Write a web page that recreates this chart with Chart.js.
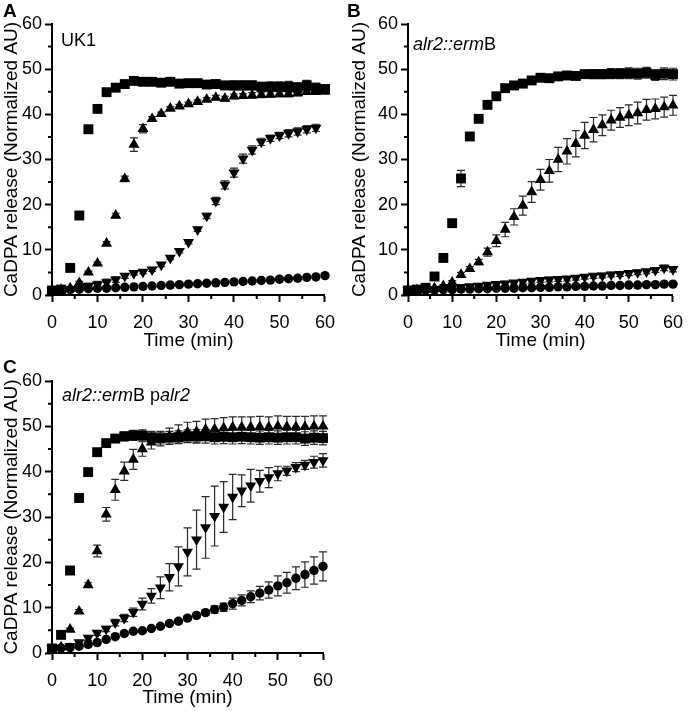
<!DOCTYPE html>
<html>
<head>
<meta charset="utf-8">
<script src="https://cdn.jsdelivr.net/npm/chart.js@4.4.1/dist/chart.umd.min.js"></script>
<style>
  body { margin: 0; background: #fff; width: 693px; height: 711px; position: relative; overflow: hidden; font-family: "Liberation Sans", Arial, sans-serif; }
  canvas { position: absolute; }
  .lbl { position: absolute; font-size: 18px; color: #000; white-space: nowrap; line-height: 1; }
  .letter { position: absolute; font-size: 19px; font-weight: bold; color: #000; line-height: 1; }
</style>
</head>
<body>
<canvas id="chartA" width="345" height="356" style="left:0;top:0"></canvas>
<canvas id="chartB" width="345" height="356" style="left:348px;top:0"></canvas>
<canvas id="chartC" width="345" height="356" style="left:0;top:355px"></canvas>

<div class="letter" style="left:3px;top:1px">A</div>
<div class="letter" style="left:347px;top:1px">B</div>
<div class="letter" style="left:3px;top:357px">C</div>
<div class="lbl" style="left:61px;top:31px">UK1</div>
<div class="lbl" style="left:413px;top:35px"><i>alr2::erm</i>B</div>
<div class="lbl" style="left:62px;top:386px"><i>alr2::erm</i>B p<i>alr2</i></div>

<script>
const times = [0, 2, 4, 6, 8, 10, 12, 14, 16, 18, 20, 22, 24, 26, 28, 30,
  32, 34, 36, 38, 40, 42, 44, 46, 48, 50, 52, 54, 56, 58, 60];
const yTicks = [0, 10, 20, 30, 40, 50, 60];

// panel A - UK1
const aSquare = [1.0, 1.2, 6.0, 17.6, 36.7, 41.2, 44.9, 45.9, 46.7, 47.4, 47.2, 47.2, 47.0, 47.2, 46.8, 46.9,
  46.9, 46.6, 46.7, 46.4, 46.4, 46.4, 46.4, 46.1, 46.1, 46.1, 46.1, 45.9, 46.4, 45.8, 45.6];
const aSquareErr = [0.2, 0.2, 0.3, 0.3, 0.3, 0.3, 0.3, 0.3, 0.3, 0.4, 0.4, 0.4, 0.5, 0.6, 0.6, 0.7,
  0.8, 0.8, 0.9, 0.9, 1.0, 1.0, 1.0, 1.0, 1.1, 1.1, 1.2, 1.1, 1.1, 1.1, 1.0];
const aUp = [1.0, 1.2, 1.5, 2.7, 5.0, 7.0, 11.4, 17.6, 25.7, 33.3, 36.8, 39.0, 40.1, 41.3, 41.8, 42.3,
  42.8, 43.3, 43.7, 43.5, 44.0, 44.1, 44.2, 44.3, 44.4, 44.5, 44.5, 44.7, 45.0, 45.0, 45.1];
const aUpErr = [0.2, 0.2, 0.2, 0.3, 0.3, 0.3, 0.4, 0.5, 0.6, 1.5, 0.9, 0.5, 0.4, 0.4, 0.4, 0.4,
  0.4, 0.4, 0.5, 0.5, 0.5, 0.5, 0.6, 0.6, 0.6, 0.6, 0.6, 0.6, 0.6, 0.6, 0.6];
const aDown = [1.0, 1.2, 1.3, 1.5, 2.0, 2.3, 2.8, 3.4, 4.2, 4.8, 5.1, 5.6, 6.7, 8.2, 9.7, 11.7,
  14.5, 17.5, 20.8, 24.4, 27.1, 30.2, 32.1, 33.9, 34.7, 35.3, 35.8, 36.2, 36.7, 37.0, null];
const aDownErr = [0.2, 0.3, 0.4, 0.5, 0.6, 0.7, 0.7, 0.6, 0.5, 0.4, 0.4, 0.4, 0.4, 0.4, 0.4, 0.4,
  0.4, 0.6, 0.8, 0.9, 1.0, 1.0, 0.9, 0.8, 0.7, 0.7, 0.8, 0.8, 0.8, 0.8, null];
const aCircle = [1.0, 1.1, 1.2, 1.3, 1.4, 1.5, 1.5, 1.6, 1.7, 1.8, 1.9, 2.0, 2.1, 2.2, 2.3, 2.4,
  2.5, 2.6, 2.7, 2.8, 2.9, 3.0, 3.1, 3.2, 3.3, 3.5, 3.6, 3.7, 3.9, 4.0, 4.3];
const aCircleErr = [0.1, 0.1, 0.1, 0.1, 0.1, 0.1, 0.1, 0.1, 0.1, 0.1, 0.1, 0.1, 0.1, 0.1, 0.1, 0.1,
  0.1, 0.1, 0.1, 0.1, 0.1, 0.2, 0.2, 0.2, 0.2, 0.2, 0.2, 0.2, 0.2, 0.2, 0.2];

// panel B - alr2::ermB
const bSquare = [1.0, 1.2, 1.6, 4.1, 8.2, 15.9, 25.8, 35.1, 39.0, 42.1, 44.0, 45.8, 46.4, 46.8, 47.5, 48.1,
  48.0, 48.4, 48.6, 48.5, 48.9, 48.9, 48.9, 49.0, 49.0, 49.1, 49.0, 49.2, 48.7, 49.0, 48.9];
const bSquareErr = [0.2, 0.2, 0.2, 0.3, 0.3, 0.4, 1.8, 0.5, 0.4, 0.4, 0.4, 0.4, 0.4, 0.4, 0.5, 0.6,
  0.6, 0.7, 0.8, 0.8, 0.9, 1.0, 1.0, 1.1, 1.1, 1.2, 1.2, 1.2, 1.2, 1.3, 1.3];
const bUp = [1.0, 1.1, 1.3, 1.5, 2.0, 2.8, 4.5, 5.8, 7.3, 9.5, 12.0, 14.5, 17.3, 19.8, 22.8, 25.5,
  27.5, 30.0, 31.8, 33.5, 35.3, 36.6, 37.6, 38.7, 39.3, 39.8, 40.3, 41.0, 41.2, 41.6, 42.0];
const bUpErr = [0.2, 0.2, 0.2, 0.3, 0.3, 0.4, 0.5, 0.5, 0.6, 0.9, 1.3, 1.6, 1.8, 2.1, 2.3, 2.3,
  2.5, 2.7, 2.8, 2.9, 2.9, 2.7, 2.3, 2.2, 2.2, 2.3, 2.4, 2.3, 2.2, 2.2, 2.2];
const bDown = [1.0, 1.1, 1.2, 1.3, 1.4, 1.6, 1.7, 1.9, 2.0, 2.2, 2.4, 2.5, 2.7, 2.9, 3.1, 3.3,
  3.4, 3.5, 3.6, 3.8, 4.0, 4.2, 4.3, 4.5, 4.6, 4.8, 5.0, 5.2, 5.5, 6.0, 5.7];
const bDownErr = [0.2, 0.2, 0.3, 0.3, 0.3, 0.4, 0.4, 0.4, 0.4, 0.4, 0.5, 0.5, 0.5, 0.5, 0.5, 0.5,
  0.5, 0.5, 0.5, 0.5, 0.5, 0.5, 0.5, 0.5, 0.5, 0.5, 0.5, 0.5, 0.5, 0.6, 0.6];
const bCircle = [1.0, 1.0, 1.1, 1.1, 1.2, 1.2, 1.3, 1.3, 1.4, 1.4, 1.5, 1.5, 1.5, 1.6, 1.6, 1.7,
  1.7, 1.8, 1.8, 1.9, 1.9, 2.0, 2.0, 2.1, 2.1, 2.2, 2.2, 2.3, 2.3, 2.4, 2.4];
const bCircleErr = [0.1, 0.1, 0.1, 0.1, 0.1, 0.1, 0.1, 0.1, 0.1, 0.1, 0.1, 0.1, 0.1, 0.1, 0.1, 0.1,
  0.1, 0.1, 0.1, 0.1, 0.1, 0.1, 0.1, 0.1, 0.1, 0.1, 0.1, 0.1, 0.1, 0.1, 0.1];

// panel C - alr2::ermB palr2
const cSquare = [1.0, 4.0, 18.2, 34.2, 39.9, 44.3, 46.3, 47.3, 47.8, 48.0, 48.0, 47.6, 47.4, 47.5, 47.6, 47.8,
  47.8, 47.8, 47.6, 47.7, 47.6, 47.7, 47.6, 47.5, 47.6, 47.5, 47.6, 47.6, 47.3, 47.5, 47.4];
const cSquareErr = [0.2, 0.3, 0.4, 0.9, 0.5, 0.5, 0.6, 0.8, 1.0, 1.1, 1.2, 1.3, 1.3, 1.4, 1.4, 1.4,
  1.5, 1.5, 1.5, 1.5, 1.5, 1.5, 1.5, 1.5, 1.5, 1.5, 1.5, 1.5, 1.5, 1.5, 1.5];
const cUp = [1.0, 1.3, 5.2, 9.2, 15.0, 22.5, 30.6, 36.0, 40.1, 42.7, 45.0, 46.5, 47.3, 47.8, 48.3, 48.7,
  48.8, 49.3, 49.4, 49.6, 49.8, 49.8, 49.8, 49.9, 49.8, 50.0, 49.9, 49.9, 49.9, 50.0, 50.0];
const cUpErr = [0.2, 0.2, 0.3, 0.4, 0.5, 1.3, 1.5, 2.3, 2.0, 2.2, 1.6, 1.5, 1.6, 1.8, 2.0, 2.2,
  2.3, 2.3, 2.3, 2.3, 2.3, 2.3, 2.3, 2.3, 2.3, 2.3, 2.3, 2.3, 2.3, 2.3, 2.3];
const cDown = [1.0, 1.1, 1.5, 2.3, 3.3, 4.4, 5.3, 6.7, 7.7, 9.0, 10.8, 12.6, 14.4, 16.7, 19.1, 22.3,
  25.0, 27.7, 30.2, 32.2, 34.4, 35.8, 36.9, 37.9, 38.7, 39.6, 40.2, 41.0, 41.5, 42.1, 42.5];
const cDownErr = [0.2, 0.3, 0.3, 0.4, 0.5, 0.5, 0.6, 0.7, 0.8, 0.9, 1.3, 1.6, 2.4, 3.0, 4.3, 5.3,
  6.5, 6.8, 6.6, 5.6, 5.0, 3.5, 3.6, 2.4, 2.2, 1.6, 1.0, 1.0, 1.0, 1.3, 1.5];
const cCircle = [1.0, 1.1, 1.2, 1.5, 1.9, 2.3, 3.0, 3.6, 4.3, 4.8, 4.9, 5.4, 5.9, 6.5, 7.0, 7.7,
  8.3, 8.9, 9.6, 10.1, 10.9, 11.6, 12.4, 13.2, 13.9, 14.8, 15.5, 16.5, 17.3, 18.2, 19.1];
const cCircleErr = [0.2, 0.2, 0.2, 0.3, 0.3, 0.3, 0.3, 0.3, 0.3, 0.3, 0.3, 0.3, 0.3, 0.4, 0.4, 0.5,
  0.5, 0.5, 0.8, 0.9, 1.2, 1.2, 1.3, 1.5, 1.8, 2.2, 2.3, 2.5, 2.8, 3.0, 3.2];

Chart.defaults.font.family = '"Liberation Sans", Arial, sans-serif';
Chart.defaults.color = '#000';

// draws the SEM bars under the markers
const errorBars = {
  id: 'errorBars',
  beforeDatasetsDraw(chart) {
    const ctx = chart.ctx;
    const xs = chart.scales.x, ys = chart.scales.y;
    ctx.save();
    ctx.strokeStyle = '#2a2a2a';
    ctx.lineWidth = 1.2;
    chart.data.datasets.forEach(ds => {
      ds.data.forEach((p, i) => {
        const e = ds.errors[i];
        if (p.y == null || !e) return;
        const x = xs.getPixelForValue(p.x);
        const lo = ys.getPixelForValue(p.y - e);
        const hi = ys.getPixelForValue(p.y + e);
        ctx.beginPath();
        ctx.moveTo(x, lo); ctx.lineTo(x, hi);
        ctx.moveTo(x - 4, lo); ctx.lineTo(x + 4, lo);
        ctx.moveTo(x - 4, hi); ctx.lineTo(x + 4, hi);
        ctx.stroke();
      });
    });
    ctx.restore();
  }
};

// short ticks between the labelled ones
const minorTicks = {
  id: 'minorTicks',
  afterDraw(chart) {
    const ctx = chart.ctx;
    const xs = chart.scales.x, ys = chart.scales.y;
    const a = chart.chartArea;
    ctx.save();
    ctx.strokeStyle = '#000';
    ctx.lineWidth = 2;
    ctx.beginPath();
    [5, 15, 25, 35, 45, 55].forEach(v => {
      const px = xs.getPixelForValue(v);
      ctx.moveTo(px, a.bottom); ctx.lineTo(px, a.bottom + 4);
      const py = ys.getPixelForValue(v);
      ctx.moveTo(a.left, py); ctx.lineTo(a.left - 4, py);
    });
    ctx.stroke();
    ctx.restore();
  }
};

function series(vals, errs, style, radius, rotation, order) {
  return {
    data: times.map((t, i) => ({ x: t, y: vals[i] })),
    errors: errs,
    pointStyle: style,
    pointRadius: radius,
    pointHoverRadius: radius,
    rotation: rotation,
    backgroundColor: '#000',
    borderColor: '#000',
    borderWidth: 0,
    showLine: false,
    clip: false,
    order: order
  };
}

function makePanel(id, sets, pad, yWidth, xHeight, titleBottom) {
  const axisCommon = {
    type: 'linear',
    min: 0,
    max: 60,
    border: { display: true, color: '#000', width: 2 },
    grid: { display: true, drawOnChartArea: false, drawTicks: true, tickLength: 7, tickWidth: 2, tickColor: '#000' },
  };
  return new Chart(document.getElementById(id).getContext('2d'), {
    type: 'scatter',
    data: { datasets: sets },
    options: {
      responsive: false,
      animation: false,
      devicePixelRatio: 1,
      layout: { padding: pad },
      plugins: { legend: { display: false }, tooltip: { enabled: false } },
      scales: {
        x: Object.assign({}, axisCommon, {
          afterBuildTicks: s => { s.ticks = yTicks.map(v => ({ value: v })); },
          ticks: { font: { size: 18 }, padding: 10, maxRotation: 0 },
          title: { display: true, text: 'Time (min)', font: { size: 19 }, padding: { top: 0, bottom: titleBottom } },
          afterFit: s => { s.height = xHeight; }
        }),
        y: Object.assign({}, axisCommon, {
          afterBuildTicks: s => { s.ticks = yTicks.map(v => ({ value: v })); },
          ticks: { font: { size: 18 }, padding: 3 },
          title: { display: true, text: 'CaDPA release (Normalized AU)', font: { size: 19 }, padding: 0 },
          afterFit: s => { s.width = yWidth; }
        })
      }
    },
    plugins: [errorBars, minorTicks]
  });
}

makePanel('chartA', [
  series(aCircle, aCircleErr, 'circle', 4.7, 0, 4),
  series(aDown, aDownErr, 'triangle', 6.4, 180, 3),
  series(aUp, aUpErr, 'triangle', 6.4, 0, 2),
  series(aSquare, aSquareErr, 'rect', 7, 0, 1)
], { top: 24, right: 20, left: 0, bottom: 0 }, 52, 61, 4);

makePanel('chartB', [
  series(bCircle, bCircleErr, 'circle', 4.7, 0, 4),
  series(bDown, bDownErr, 'triangle', 6.4, 180, 3),
  series(bUp, bUpErr, 'triangle', 6.4, 0, 2),
  series(bSquare, bSquareErr, 'rect', 7, 0, 1)
], { top: 24, right: 11, left: 0, bottom: 0 }, 60, 61, 4);

makePanel('chartC', [
  series(cCircle, cCircleErr, 'circle', 4.7, 0, 4),
  series(cDown, cDownErr, 'triangle', 6.4, 180, 3),
  series(cUp, cUpErr, 'triangle', 6.4, 0, 2),
  series(cSquare, cSquareErr, 'rect', 7, 0, 1)
], { top: 26, right: 22, left: 0, bottom: 0 }, 52, 58, 1.5);
</script>
</body>
</html>
